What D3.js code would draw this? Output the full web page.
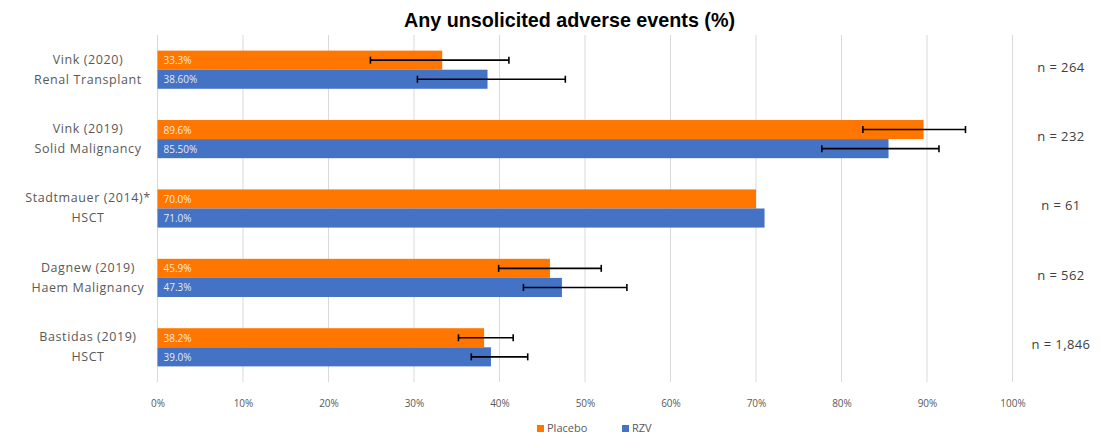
<!DOCTYPE html>
<html>
<head>
<meta charset="utf-8">
<script src="https://cdn.jsdelivr.net/npm/d3@7"></script>
<style>
  body { margin: 0; background: #fff; }
  svg { display: block; }
</style>
</head>
<body>
<div id="chart"></div>
<script>
const studies = ['Vink (2020)', 'Vink (2019)', 'Stadtmauer (2014)*', 'Dagnew (2019)', 'Bastidas (2019)'];
const subtitles = ['Renal Transplant', 'Solid Malignancy', 'HSCT', 'Haem Malignancy', 'HSCT'];
const placebo = [33.3, 89.6, 70.0, 45.9, 38.2];
const rzv = [38.6, 85.5, 71.0, 47.3, 39.0];
const placeboLabels = ['33.3%', '89.6%', '70.0%', '45.9%', '38.2%'];
const rzvLabels = ['38.60%', '85.50%', '71.0%', '47.3%', '39.0%'];
// confidence intervals, null where none shown
const placeboLow = [24.9, 82.5, null, 39.9, 35.2];
const placeboHigh = [41.1, 94.5, null, 51.9, 41.6];
const rzvLow = [30.4, 77.7, null, 42.8, 36.7];
const rzvHigh = [47.7, 91.4, null, 54.9, 43.3];
const sampleSizes = ['n = 264', 'n = 232', 'n = 61', 'n = 562', 'n = 1,846'];
const xTicks = [0, 10, 20, 30, 40, 50, 60, 70, 80, 90, 100];

const width = 1101, height = 441;
const plot = {left: 157.5, right: 1012.5, top: 35, bottom: 382};
const orange = '#FF7700', blue = '#4472C4';

const svg = d3.select('#chart').append('svg')
    .attr('width', width)
    .attr('height', height);

const x = d3.scaleLinear().domain([0, 100]).range([plot.left, plot.right]);
const y = d3.scaleBand().domain(studies).range([plot.top, plot.bottom]).paddingInner(0.45).paddingOuter(0.225);
const sub = d3.scaleBand().domain(['placebo', 'rzv']).range([0, y.bandwidth()]);

const rows = studies.map((s, i) => ({
    study: s, sub: subtitles[i], n: sampleSizes[i],
    bars: [
        {key: 'placebo', v: placebo[i], label: placeboLabels[i], lo: placeboLow[i], hi: placeboHigh[i], color: orange},
        {key: 'rzv', v: rzv[i], label: rzvLabels[i], lo: rzvLow[i], hi: rzvHigh[i], color: blue}
    ]
}));

// title
svg.append('text')
    .attr('x', 569.5).attr('y', 27)
    .attr('text-anchor', 'middle')
    .attr('textLength', 331)
    .attr('lengthAdjust', 'spacingAndGlyphs')
    .style('font-family', "'Liberation Sans', Arial, sans-serif")
    .style('font-weight', 'bold')
    .style('font-size', '21px')
    .attr('fill', '#000')
    .text('Any unsolicited adverse events (%)');

// gridlines
svg.append('g')
    .selectAll('line')
    .data(xTicks)
    .join('line')
        .attr('x1', d => x(d)).attr('x2', d => x(d))
        .attr('y1', plot.top).attr('y2', plot.bottom)
        .attr('stroke', '#d9d9d9')
        .attr('stroke-width', 1);

// x axis labels
const xAxis = svg.append('g')
    .attr('transform', `translate(0, ${plot.bottom})`)
    .call(d3.axisBottom(x).tickValues(xTicks).tickFormat(d => d + '%').tickSize(0).tickPadding(18));
xAxis.select('.domain').remove();
xAxis.selectAll('text')
    .style('font-family', "'Open Sans', sans-serif")
    .style('font-size', '10px')
    .attr('fill', '#595959');

const groups = svg.append('g')
    .selectAll('g')
    .data(rows)
    .join('g')
        .attr('transform', d => `translate(0, ${y(d.study)})`);

groups.selectAll('rect')
    .data(d => d.bars)
    .join('rect')
        .attr('x', x(0))
        .attr('y', d => sub(d.key))
        .attr('width', d => x(d.v) - x(0))
        .attr('height', sub.bandwidth())
        .attr('fill', d => d.color);

groups.selectAll('text.val')
    .data(d => d.bars)
    .join('text')
        .attr('class', 'val')
        .attr('x', x(0) + 6)
        .attr('y', d => sub(d.key) + sub.bandwidth() / 2 + 4)
        .style('font-family', "'Open Sans', sans-serif")
        .style('font-size', '10px')
        .attr('fill', '#fff')
        .attr('fill-opacity', 0.88)
        .text(d => d.label);

// error bars
const err = groups.selectAll('g.err')
    .data(d => d.bars.filter(b => b.lo !== null))
    .join('g')
        .attr('class', 'err')
        .attr('transform', d => `translate(0, ${sub(d.key) + sub.bandwidth() / 2})`);
err.append('line')
    .attr('x1', d => x(d.lo)).attr('x2', d => x(d.hi))
    .attr('stroke', '#000').attr('stroke-width', 1.6);
err.selectAll('line.cap')
    .data(d => [d.lo, d.hi])
    .join('line')
        .attr('class', 'cap')
        .attr('x1', d => x(d)).attr('x2', d => x(d))
        .attr('y1', -3.5).attr('y2', 3.5)
        .attr('stroke', '#000').attr('stroke-width', 1.6);

// category labels
const catLabels = groups.append('text')
    .attr('text-anchor', 'middle')
    .style('font-family', "'Open Sans', sans-serif")
    .style('font-size', '12.5px')
    .style('letter-spacing', '0.6px')
    .attr('fill', '#595959');
catLabels.append('tspan')
    .attr('x', 88).attr('y', y.bandwidth() / 2 - 6)
    .text(d => d.study);
catLabels.append('tspan')
    .attr('x', 88).attr('y', y.bandwidth() / 2 + 14)
    .text(d => d.sub);

// sample sizes
groups.append('text')
    .attr('x', 1061)
    .attr('y', y.bandwidth() / 2 + 2)
    .attr('text-anchor', 'middle')
    .style('font-family', "'Open Sans', sans-serif")
    .style('font-size', '13px')
    .style('letter-spacing', '0.4px')
    .attr('fill', '#404040')
    .text(d => d.n);

// legend
const legendItems = [{name: 'Placebo', color: orange}, {name: 'RZV', color: blue}];
const legendX = d3.scalePoint().domain(legendItems.map(d => d.name)).range([537, 622]);
const legend = svg.append('g')
    .selectAll('g')
    .data(legendItems)
    .join('g')
        .attr('transform', d => `translate(${legendX(d.name)}, 432)`);
legend.append('rect')
    .attr('x', 0).attr('y', -7)
    .attr('width', 7).attr('height', 7)
    .attr('fill', d => d.color);
legend.append('text')
    .attr('x', 10).attr('y', 0)
    .style('font-family', "'Open Sans', sans-serif")
    .style('font-size', '11px')
    .attr('fill', '#595959')
    .text(d => d.name);
</script>
</body>
</html>
